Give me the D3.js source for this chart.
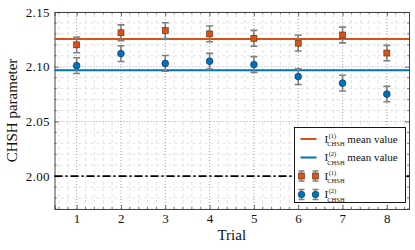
<!DOCTYPE html>
<html>
<head>
<meta charset="utf-8">
<script src="https://cdn.jsdelivr.net/npm/d3@7"></script>
<style>
  body { margin: 0; background: #fff; }
  text { font-family: "Liberation Serif", "DejaVu Serif", serif; fill: #111; }
</style>
</head>
<body>
<div id="chart"></div>
<script>
// values
var trials = [1, 2, 3, 4, 5, 6, 7, 8];
var chsh1 = [2.120, 2.131, 2.133, 2.130, 2.126, 2.1215, 2.129, 2.1125];
var chsh2 = [2.101, 2.112, 2.103, 2.105, 2.102, 2.091, 2.085, 2.075];
var err1 = [0.0072, 0.0072, 0.0072, 0.0072, 0.0072, 0.0072, 0.0072, 0.0070];
var err2 = [0.0072, 0.0072, 0.0072, 0.0072, 0.0072, 0.0072, 0.0072, 0.0070];
var yTicks = [2.00, 2.05, 2.10, 2.15];
var classicalBound = 2.0;

var width = 415, height = 250;
var margin = {left: 54.5, right: 6, top: 12, bottom: 41};

var orange = "#D95319", blue = "#0072BD";

var svg = d3.select("#chart").append("svg")
  .attr("width", width)
  .attr("height", height);

var x = d3.scaleLinear().domain([0.5, 8.5]).range([margin.left, width - margin.right]);
var y = d3.scaleLinear().domain([1.97, 2.15]).range([height - margin.bottom, margin.top]);

var x0 = x.range()[0], x1 = x.range()[1];
var y0 = y.range()[0], y1 = y.range()[1];

// minor grid
var xMinor = d3.range(0.6, 8.45, 0.2).filter(function(v) { return Math.abs(v - Math.round(v)) > 1e-6; });
var yMinor = d3.range(1.97, 2.1501, 0.01).filter(function(v) { return Math.abs(v * 20 - Math.round(v * 20)) > 1e-6; });

var grid = svg.append("g");
grid.selectAll(".vminor").data(xMinor).enter().append("line")
  .attr("x1", function(d) { return x(d); }).attr("x2", function(d) { return x(d); })
  .attr("y1", y0).attr("y2", y1)
  .attr("stroke", "#d9d9d9").attr("stroke-width", 0.8).attr("stroke-dasharray", "3,3");
grid.selectAll(".hminor").data(yMinor).enter().append("line")
  .attr("x1", x0).attr("x2", x1)
  .attr("y1", function(d) { return y(d); }).attr("y2", function(d) { return y(d); })
  .attr("stroke", "#d9d9d9").attr("stroke-width", 0.8).attr("stroke-dasharray", "3,3");

// major grid
grid.selectAll(".vmajor").data(trials).enter().append("line")
  .attr("x1", function(d) { return x(d); }).attr("x2", function(d) { return x(d); })
  .attr("y1", y0).attr("y2", y1)
  .attr("stroke", "#999").attr("stroke-width", 0.9).attr("stroke-dasharray", "1,2");
grid.selectAll(".hmajor").data(yTicks).enter().append("line")
  .attr("x1", x0).attr("x2", x1)
  .attr("y1", function(d) { return y(d); }).attr("y2", function(d) { return y(d); })
  .attr("stroke", "#999").attr("stroke-width", 0.9).attr("stroke-dasharray", "1,2");

// axes (ticks inward, all four sides)
var fmt = d3.format(".2f");
svg.append("g").attr("transform", "translate(0," + y0 + ")")
  .call(d3.axisBottom(x).tickValues(trials).tickSize(-4).tickPadding(5).tickFormat(d3.format("d")))
  .call(styleAxis);
svg.append("g").attr("transform", "translate(" + x0 + ",0)")
  .call(d3.axisLeft(y).tickValues(yTicks).tickSize(-4).tickPadding(4.5).tickFormat(fmt))
  .call(styleAxis);
svg.append("g").attr("transform", "translate(0," + y1 + ")")
  .call(d3.axisTop(x).tickValues(trials).tickSize(-4).tickFormat(""))
  .call(styleAxis);
svg.append("g").attr("transform", "translate(" + x1 + ",0)")
  .call(d3.axisRight(y).tickValues(yTicks).tickSize(-4).tickFormat(""))
  .call(styleAxis);

// minor ticks
[y0, y1].forEach(function(yy, k) {
  svg.append("g").selectAll("line").data(xMinor).enter().append("line")
    .attr("x1", function(d) { return x(d); }).attr("x2", function(d) { return x(d); })
    .attr("y1", yy).attr("y2", k === 0 ? yy - 2 : yy + 2)
    .attr("stroke", "#444").attr("stroke-width", 0.7);
});
[x0, x1].forEach(function(xx, k) {
  svg.append("g").selectAll("line").data(yMinor).enter().append("line")
    .attr("y1", function(d) { return y(d); }).attr("y2", function(d) { return y(d); })
    .attr("x1", xx).attr("x2", k === 0 ? xx + 2 : xx - 2)
    .attr("stroke", "#444").attr("stroke-width", 0.7);
});

function styleAxis(g) {
  g.select(".domain").attr("stroke", "#444").attr("stroke-width", 1);
  g.selectAll(".tick line").attr("stroke", "#444").attr("stroke-width", 0.8);
  g.selectAll(".tick text")
    .attr("font-size", 13)
    .attr("letter-spacing", 0.4)
    .attr("fill", "#111");
}

// classical bound
svg.append("line")
  .attr("x1", x0).attr("x2", x1)
  .attr("y1", y(classicalBound)).attr("y2", y(classicalBound))
  .attr("stroke", "#000").attr("stroke-width", 1.6)
  .attr("stroke-dasharray", "8,3,2,3");

// mean lines
var mean1 = d3.mean(chsh1), mean2 = d3.mean(chsh2);
svg.append("line").attr("x1", x0).attr("x2", x1)
  .attr("y1", y(mean1)).attr("y2", y(mean1))
  .attr("stroke", orange).attr("stroke-width", 2);
svg.append("line").attr("x1", x0).attr("x2", x1)
  .attr("y1", y(mean2)).attr("y2", y(mean2))
  .attr("stroke", blue).attr("stroke-width", 2);

// error bars + markers
function errorBars(vals, errs) {
  var g = svg.append("g");
  var pts = trials.map(function(t, i) { return {t: t, v: vals[i], e: errs[i]}; });
  g.selectAll(".eb").data(pts).enter().append("path")
    .attr("d", function(d) {
      var cx = x(d.t), ya = y(d.v + d.e), yb = y(d.v - d.e);
      return "M" + cx + "," + ya + "V" + yb +
        "M" + (cx - 3.5) + "," + ya + "H" + (cx + 3.5) +
        "M" + (cx - 3.5) + "," + yb + "H" + (cx + 3.5);
    })
    .attr("fill", "none").attr("stroke", "#808080").attr("stroke-width", 1.6);
  return {g: g, pts: pts};
}

var s1 = errorBars(chsh1, err1);
s1.g.selectAll(".sq").data(s1.pts).enter().append("rect")
  .attr("x", function(d) { return x(d.t) - 3; })
  .attr("y", function(d) { return y(d.v) - 3; })
  .attr("width", 6).attr("height", 6)
  .attr("fill", orange).attr("stroke", "#5a2a10").attr("stroke-width", 0.6);

var s2 = errorBars(chsh2, err2);
s2.g.selectAll(".ci").data(s2.pts).enter().append("circle")
  .attr("cx", function(d) { return x(d.t); })
  .attr("cy", function(d) { return y(d.v); })
  .attr("r", 3.4)
  .attr("fill", blue).attr("stroke", "#0a2a4a").attr("stroke-width", 0.6);

// axis titles
svg.append("text")
  .attr("x", (x0 + x1) / 2).attr("y", 240)
  .attr("text-anchor", "middle").attr("font-size", 15)
  .text("Trial");
svg.append("text")
  .attr("transform", "translate(17," + ((y0 + y1) / 2) + ") rotate(-90)")
  .attr("text-anchor", "middle").attr("font-size", 15)
  .text("CHSH parameter");

// legend
var lg = svg.append("g").attr("transform", "translate(294.5,127.5)");
lg.append("rect").attr("width", 111).attr("height", 75)
  .attr("fill", "#fff").attr("stroke", "#000").attr("stroke-width", 0.9);

var rows = [
  {type: "line", color: orange, sup: "(1)", suffix: " mean value", dy: 11.5},
  {type: "line", color: blue, sup: "(2)", suffix: " mean value", dy: 30},
  {type: "sq", color: orange, sup: "(1)", suffix: "", dy: 48.5},
  {type: "ci", color: blue, sup: "(2)", suffix: "", dy: 67}
];

rows.forEach(function(r) {
  var row = lg.append("g").attr("transform", "translate(0," + r.dy + ")");
  if (r.type === "line") {
    row.append("line").attr("x1", 6).attr("x2", 22).attr("y1", 0).attr("y2", 0)
      .attr("stroke", r.color).attr("stroke-width", 2);
  } else {
    [7, 21].forEach(function(cx) {
      row.append("path")
        .attr("d", "M" + cx + ",-5V5M" + (cx - 3) + ",-5H" + (cx + 3) + "M" + (cx - 3) + ",5H" + (cx + 3))
        .attr("stroke", "#808080").attr("stroke-width", 1.4).attr("fill", "none");
      if (r.type === "sq") {
        row.append("rect").attr("x", cx - 3).attr("y", -3).attr("width", 6).attr("height", 6)
          .attr("fill", r.color).attr("stroke", "#5a2a10").attr("stroke-width", 0.6);
      } else {
        row.append("circle").attr("cx", cx).attr("cy", 0).attr("r", 3.3)
          .attr("fill", r.color).attr("stroke", "#0a2a4a").attr("stroke-width", 0.6);
      }
    });
  }
  var t = row.append("text").attr("x", 30).attr("y", 3.5).attr("font-size", 11);
  t.append("tspan").text("I");
  t.append("tspan").attr("font-size", 6.5).attr("dy", -5).attr("dx", 0.5).text(r.sup);
  t.append("tspan").attr("font-size", 6.5).attr("dy", 8.5).attr("dx", -9).text("CHSH");
  t.append("tspan").attr("dy", -3.5).text(r.suffix);
});
</script>
</body>
</html>
